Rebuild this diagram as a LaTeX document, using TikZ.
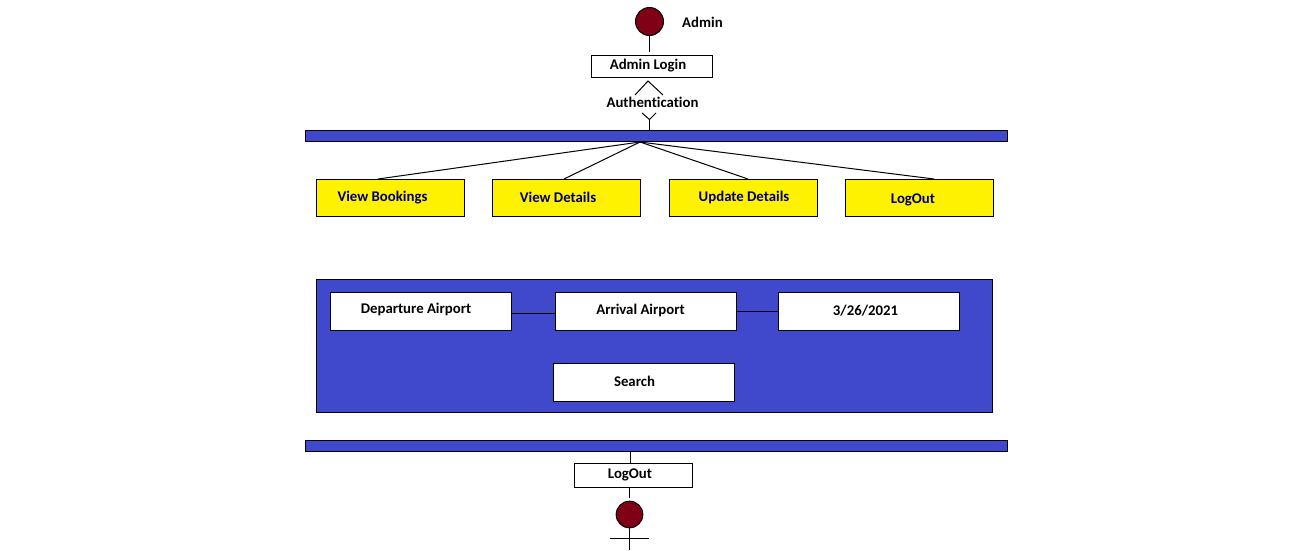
\documentclass[tikz,border=0pt]{standalone}
\usepackage{fontspec}
\setmainfont[RawFeature={-liga}]{Carlito}
\definecolor{barblue}{RGB}{64,72,204}
\definecolor{maroon}{RGB}{128,0,21}
\definecolor{boxyellow}{RGB}{255,242,0}
\definecolor{navytext}{RGB}{0,0,110}
\tikzset{
  x=0.75pt,y=-0.75pt,
  line/.style={draw=black,line width=0.75pt},
  bar/.style={line,fill=barblue,inner sep=0pt,outer sep=0pt,minimum width=526.5pt,minimum height=8.25pt},
  panel/.style={line,fill=barblue,inner sep=0pt,outer sep=0pt,minimum width=507pt,minimum height=99.75pt},
  dot/.style={circle,line,fill=maroon,inner sep=0pt,outer sep=0pt,minimum size=21pt},
  wbox/.style={line,fill=white,inner sep=0pt,outer sep=0pt},
  ybox/.style={line,fill=boxyellow,inner sep=0pt,outer sep=0pt,minimum width=111pt,minimum height=27.75pt},
  field/.style={wbox,minimum width=135.75pt,minimum height=28.5pt},
  lab/.style={inner sep=0pt,font=\fontsize{11.1pt}{13pt}\selectfont\bfseries,text=black},
  ylab/.style={lab,text=navytext},
}
\begin{document}
\begin{tikzpicture}
\useasboundingbox (0,0) rectangle (1310,550);
% top actor
\node[dot] (top) at (649.5,21.5) {};
\node[lab] (admin) at (702.5,22) {Admin};
\node[wbox,minimum width=90.75pt,minimum height=16.5pt] (login) at (652,66) {};
\node[lab] at (648,66) {Admin Login};
\coordinate (topend) at (649.5,52);
\draw[line] (top) -- (topend);
% authentication chevrons
\coordinate (apex) at (648,81);
\coordinate (al) at (635,95);
\coordinate (ar) at (663,95);
\draw[line] (al) -- (apex) -- (ar);
\node[lab] (auth) at (652.5,102) {Authentication};
\node[bar] (bar1) at (656,136) {};
\coordinate (bl) at (642,113);
\coordinate (bm) at (649.5,119.5);
\coordinate (br) at (656,113);
\coordinate (bbar) at (649.5,130.5);
\draw[line] (bl) -- (bm) -- (br);
\draw[line] (bm) -- (bbar);
% yellow boxes
\node[ybox] (b1) at (390.5,198) {};
\node[ybox] (b2) at (566.5,198) {};
\node[ybox] (b3) at (743.5,198) {};
\node[ybox] (b4) at (919.5,198) {};
\node[ylab] at (382.5,197.5) {View Bookings};
\node[ylab] at (558,197) {View Details};
\node[ylab] at (744,197) {Update Details};
\node[ylab] at (913,199.5) {LogOut};
\coordinate (fan) at (640,142);
\coordinate (t1) at (378,179);
\coordinate (t2) at (564,179);
\coordinate (t3) at (748,179);
\coordinate (t4) at (934,179);
\draw[line] (fan) -- (t1);
\draw[line] (fan) -- (t2);
\draw[line] (fan) -- (t3);
\draw[line] (fan) -- (t4);
% search panel
\node[panel] (panel) at (654.5,346) {};
\node[field] (dep) at (421,311.5) {};
\node[field] (arr) at (646,311.5) {};
\node[field] (date) at (869,311.5) {};
\node[field] (search) at (644,382.5) {};
\node[lab] at (416,309.5) {Departure Airport};
\node[lab] at (640.5,310) {Arrival Airport};
\node[lab] at (865.5,310.5) {3/26/2021};
\node[lab] at (634.5,381) {Search};
\draw[line] (dep.east |- 0,313.5) -- (arr.west |- 0,313.5);
\draw[line] (arr.east |- 0,311.5) -- (date.west |- 0,311.5);
% bottom
\node[bar] (bar2) at (656,446) {};
\node[wbox,minimum width=88.5pt,minimum height=18pt] (logout) at (633.5,475.5) {};
\node[lab] at (630,475) {LogOut};
\node[dot,minimum size=20pt] (end) at (629.5,514.5) {};
\coordinate (c1) at (630.5,452);
\coordinate (c2) at (630.5,463);
\coordinate (c3) at (629.5,488);
\coordinate (c4) at (629.5,498);
\coordinate (c5) at (629.5,550);
\coordinate (al2) at (610,538.5);
\coordinate (ar2) at (649,538.5);
\draw[line] (c1) -- (c2);
\draw[line] (c3) -- (c4);
\draw[line] (end) -- (c5);
\draw[line] (al2) -- (ar2);
\end{tikzpicture}
\end{document}
